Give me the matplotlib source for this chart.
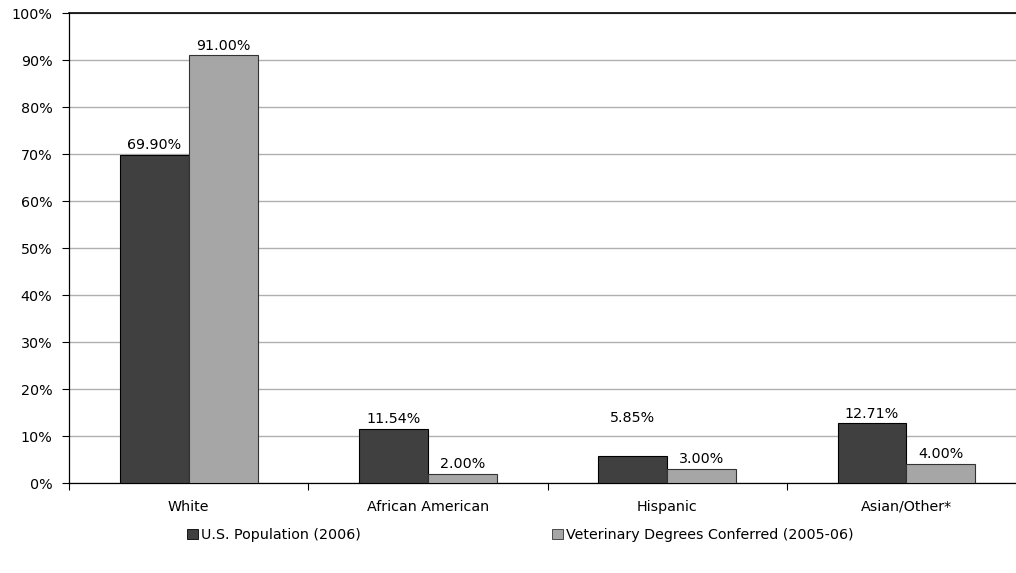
import matplotlib.pyplot as plt
import numpy as np
from matplotlib.patches import Patch

# Data.
categories = ["White", "African American", "Hispanic", "Asian/Other*"]
us_population = [69.90, 11.54, 5.85, 12.71]
vet_degrees = [91.00, 2.00, 3.00, 4.00]
series_names = ["U.S. Population (2006)", "Veterinary Degrees Conferred (2005-06)"]
y_ticks = [0, 10, 20, 30, 40, 50, 60, 70, 80, 90, 100]

plt.rcParams["font.family"] = ["DejaVu Sans"]
fs = 10.3

fig = plt.figure(figsize=(10.16, 5.73), dpi=100)
ax = fig.add_axes([0.0679, 0.157, 0.942, 0.820])

x = np.arange(len(categories))
width = 0.288
dark = "#404040"
light = "#a6a6a6"

bars1 = ax.bar(x - width / 2, us_population, width, color=dark,
               edgecolor="black", linewidth=0.8, zorder=3)
bars2 = ax.bar(x + width / 2, vet_degrees, width, color=light,
               edgecolor="#333333", linewidth=0.8, zorder=3)

# Excel placed the Hispanic population label a bit higher than the rest.
label_offsets1 = [2, 2, 22, 2]
for rect, val, off in zip(bars1, us_population, label_offsets1):
    ax.annotate(f"{val:.2f}%", (rect.get_x() + rect.get_width() / 2, val),
                xytext=(0, off), textcoords="offset points",
                ha="center", va="bottom", fontsize=fs)
for rect, val in zip(bars2, vet_degrees):
    ax.annotate(f"{val:.2f}%", (rect.get_x() + rect.get_width() / 2, val),
                xytext=(0, 2), textcoords="offset points",
                ha="center", va="bottom", fontsize=fs)

ax.set_xlim(-0.5, len(categories) - 0.5)
ax.set_ylim(0, 100)
ax.set_yticks(y_ticks)
ax.set_yticklabels([f"{t}%" for t in y_ticks], fontsize=fs)
ax.tick_params(axis="y", length=5, width=0.8, direction="out", pad=7)

# Category labels at centers, tick marks at the group boundaries.
ax.set_xticks(x)
ax.set_xticklabels(categories, fontsize=fs)
ax.tick_params(axis="x", which="major", length=0, pad=12)
ax.set_xticks(np.arange(len(categories) + 1) - 0.5, minor=True)
ax.tick_params(axis="x", which="minor", length=5, width=0.8, direction="out")

ax.grid(axis="y", color="#b0b0b0", linewidth=1.0, zorder=0)
ax.set_axisbelow(True)
ax.spines["right"].set_visible(False)
ax.spines["left"].set_linewidth(0.9)
ax.spines["bottom"].set_linewidth(0.9)
ax.spines["top"].set_linewidth(1.2)

handles = [Patch(facecolor=dark, edgecolor="black", linewidth=0.6),
           Patch(facecolor=light, edgecolor="#333333", linewidth=0.6)]
fig.legend(handles, series_names, loc="center", bbox_to_anchor=(0.512, 0.066),
           ncol=2, frameon=False, fontsize=fs, handlelength=0.75,
           handleheight=0.75, handletextpad=0.2, columnspacing=13.4)

fig.savefig("out.png", dpi=100)
